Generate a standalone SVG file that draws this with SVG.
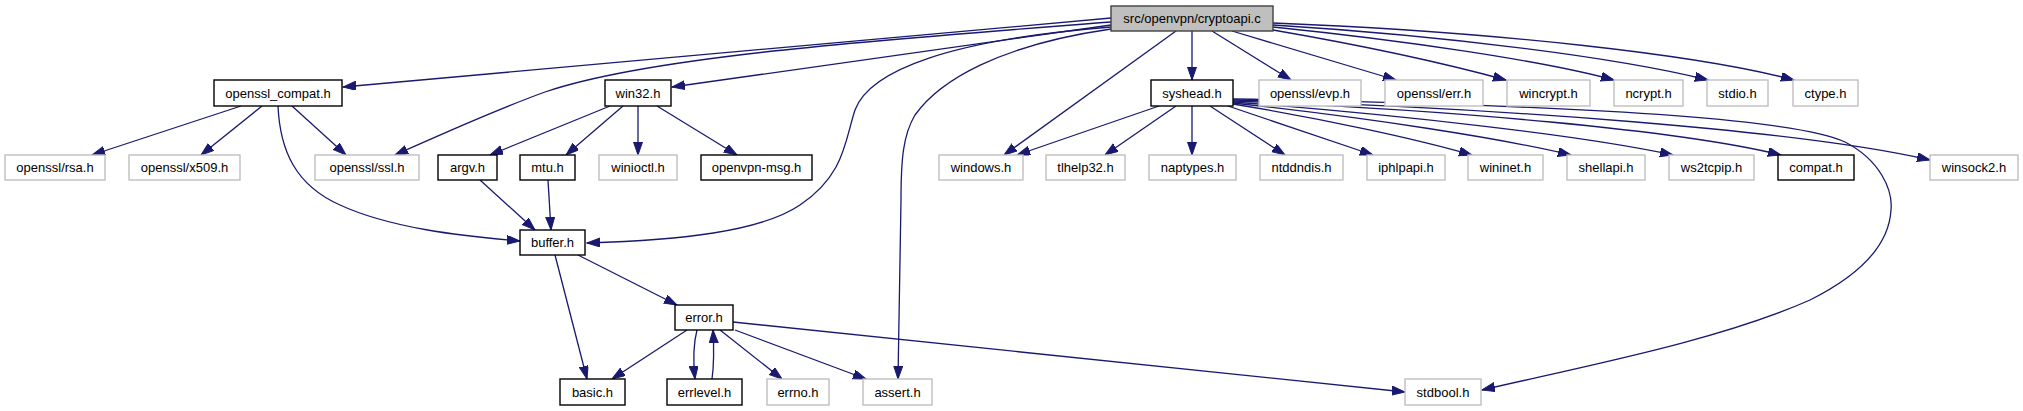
<svg xmlns="http://www.w3.org/2000/svg" width="2023" height="411" viewBox="0 0 2023 411">
<style>
  .n rect { fill: #ffffff; stroke: #000000; stroke-width: 1.4; }
  .g rect { fill: #ffffff; stroke: #bfbfbf; stroke-width: 1.4; }
  .r rect { fill: #bfbfbf; stroke: #404040; stroke-width: 1.4; }
  text { font-family: "Liberation Sans", Arial, sans-serif; font-size: 13px; fill: #000000; text-anchor: middle; }
  .e path { fill: none; stroke: #191970; stroke-width: 1.3; marker-end: url(#ah); }
</style>
<defs>
  <marker id="ah" markerUnits="userSpaceOnUse" markerWidth="14" markerHeight="10" refX="13" refY="4.5" orient="auto">
    <path d="M0,0 L13,4.5 L0,9 z" fill="#191970" stroke="#191970" stroke-width="1"/>
  </marker>
</defs>
<rect width="2023" height="411" fill="#ffffff"/>
<g class="e" id="edges">
  <path d="M1111,18 L343,87"/>
  <path d="M1111,22 C880,40 650,56 545,92 C490,112 440,135 395,155"/>
  <path d="M1111,25 L672,87"/>
  <path d="M1111,27 C950,40 870,70 855,110 C845,140 845,175 800,205 C760,232 680,240 587,243"/>
  <path d="M1111,29 C1000,45 940,80 915,115 C903,135 901,160 901,200 L898,379"/>
  <path d="M1176,31 L1004,155"/>
  <path d="M1192,31 L1192,80"/>
  <path d="M1212,31 L1291,80"/>
  <path d="M1232,31 L1396,80"/>
  <path d="M1273,30 C1360,45 1440,62 1506,80"/>
  <path d="M1273,27 C1400,40 1540,60 1614,80"/>
  <path d="M1273,25 C1450,36 1620,58 1708,80"/>
  <path d="M1273,23 C1500,32 1700,55 1794,80"/>
  <path d="M241,106 L92,155"/>
  <path d="M262,106 L201,155"/>
  <path d="M292,106 L346,155"/>
  <path d="M278,106 C280,150 295,185 340,205 C390,228 460,236 520,241"/>
  <path d="M610,106 L490,155"/>
  <path d="M623,106 L566,155"/>
  <path d="M638,106 L638,155"/>
  <path d="M657,106 L737,155"/>
  <path d="M480,180 L535,230"/>
  <path d="M548,180 L551,230"/>
  <path d="M578,255 L677,305"/>
  <path d="M555,255 L587,379"/>
  <path d="M687,330 L612,379"/>
  <path d="M697,330 C693,345 693,360 695,379"/>
  <path d="M712,379 C714,365 714,348 713,330"/>
  <path d="M720,330 L782,379"/>
  <path d="M735,330 L866,379"/>
  <path d="M733,322 L1405,392"/>
  <path d="M1159,106 L1017,155"/>
  <path d="M1176,106 L1105,155"/>
  <path d="M1192,106 L1192,155"/>
  <path d="M1210,106 L1285,155"/>
  <path d="M1228,106 L1373,155"/>
  <path d="M1233,104 C1330,120 1420,140 1472,155"/>
  <path d="M1233,103 C1370,118 1500,138 1571,155"/>
  <path d="M1233,102 C1400,115 1580,135 1673,155"/>
  <path d="M1233,101 C1450,110 1680,130 1781,155"/>
  <path d="M1233,100 C1500,108 1800,130 1930,160"/>
  <path d="M1233,99 C1520,104 1790,115 1845,142 C1880,160 1893,190 1891,210 C1889,245 1860,275 1810,300 C1720,340 1590,365 1482,390"/>
</g>
<g id="n_cryptoapi" class="r"><rect x="1111" y="6" width="162" height="25"/><text x="1192" y="23">src/openvpn/cryptoapi.c</text></g>
<g id="n_openssl_compat" class="n"><rect x="214" y="80" width="128" height="26"/><text x="278" y="97.5">openssl_compat.h</text></g>
<g id="n_win32" class="n"><rect x="605" y="80" width="66" height="26"/><text x="638" y="97.5">win32.h</text></g>
<g id="n_syshead" class="n"><rect x="1151" y="80" width="82" height="26"/><text x="1192" y="97.5">syshead.h</text></g>
<g id="n_evp" class="g"><rect x="1259" y="80" width="102" height="26"/><text x="1310" y="97.5">openssl/evp.h</text></g>
<g id="n_err" class="g"><rect x="1385" y="80" width="98" height="26"/><text x="1434" y="97.5">openssl/err.h</text></g>
<g id="n_wincrypt" class="g"><rect x="1507" y="80" width="83" height="26"/><text x="1548.5" y="97.5">wincrypt.h</text></g>
<g id="n_ncrypt" class="g"><rect x="1614" y="80" width="69" height="26"/><text x="1648.5" y="97.5">ncrypt.h</text></g>
<g id="n_stdio" class="g"><rect x="1707" y="80" width="61" height="26"/><text x="1737.5" y="97.5">stdio.h</text></g>
<g id="n_ctype" class="g"><rect x="1793" y="80" width="65" height="26"/><text x="1825.5" y="97.5">ctype.h</text></g>
<g id="n_rsa" class="g"><rect x="5" y="155" width="100" height="25"/><text x="55" y="172">openssl/rsa.h</text></g>
<g id="n_x509" class="g"><rect x="129" y="155" width="111" height="25"/><text x="184.5" y="172">openssl/x509.h</text></g>
<g id="n_ssl" class="g"><rect x="315" y="155" width="104" height="25"/><text x="367" y="172">openssl/ssl.h</text></g>
<g id="n_argv" class="n"><rect x="438" y="155" width="59" height="25"/><text x="467.5" y="172">argv.h</text></g>
<g id="n_mtu" class="n"><rect x="520" y="155" width="55" height="25"/><text x="547.5" y="172">mtu.h</text></g>
<g id="n_winioctl" class="g"><rect x="599" y="155" width="78" height="25"/><text x="638" y="172">winioctl.h</text></g>
<g id="n_openvpnmsg" class="n"><rect x="701" y="155" width="111" height="25"/><text x="756.5" y="172">openvpn-msg.h</text></g>
<g id="n_windows" class="g"><rect x="939" y="155" width="84" height="25"/><text x="981" y="172">windows.h</text></g>
<g id="n_tlhelp32" class="g"><rect x="1046" y="155" width="79" height="25"/><text x="1085.5" y="172">tlhelp32.h</text></g>
<g id="n_naptypes" class="g"><rect x="1149" y="155" width="87" height="25"/><text x="1192.5" y="172">naptypes.h</text></g>
<g id="n_ntddndis" class="g"><rect x="1260" y="155" width="83" height="25"/><text x="1301.5" y="172">ntddndis.h</text></g>
<g id="n_iphlpapi" class="g"><rect x="1367" y="155" width="78" height="25"/><text x="1406" y="172">iphlpapi.h</text></g>
<g id="n_wininet" class="g"><rect x="1468" y="155" width="75" height="25"/><text x="1505.5" y="172">wininet.h</text></g>
<g id="n_shellapi" class="g"><rect x="1567" y="155" width="78" height="25"/><text x="1606" y="172">shellapi.h</text></g>
<g id="n_ws2tcpip" class="g"><rect x="1669" y="155" width="85" height="25"/><text x="1711.5" y="172">ws2tcpip.h</text></g>
<g id="n_compat" class="n"><rect x="1778" y="155" width="76" height="25"/><text x="1816" y="172">compat.h</text></g>
<g id="n_winsock2" class="g"><rect x="1930" y="155" width="88" height="25"/><text x="1974" y="172">winsock2.h</text></g>
<g id="n_buffer" class="n"><rect x="520" y="230" width="65" height="25"/><text x="552.5" y="247">buffer.h</text></g>
<g id="n_error" class="n"><rect x="675" y="305" width="58" height="25"/><text x="704" y="322">error.h</text></g>
<g id="n_basic" class="n"><rect x="560" y="379" width="65" height="26"/><text x="592.5" y="396.5">basic.h</text></g>
<g id="n_errlevel" class="n"><rect x="667" y="379" width="75" height="26"/><text x="704.5" y="396.5">errlevel.h</text></g>
<g id="n_errno" class="g"><rect x="767" y="379" width="62" height="26"/><text x="798" y="396.5">errno.h</text></g>
<g id="n_assert" class="g"><rect x="863" y="379" width="69" height="26"/><text x="897.5" y="396.5">assert.h</text></g>
<g id="n_stdbool" class="g"><rect x="1405" y="379" width="76" height="26"/><text x="1443" y="396.5">stdbool.h</text></g>
</svg>
